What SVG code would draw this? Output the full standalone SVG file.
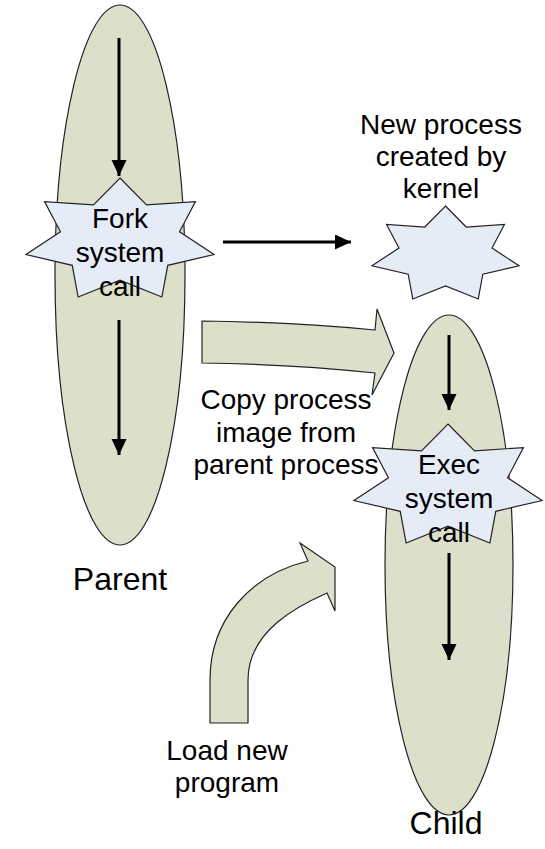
<svg xmlns="http://www.w3.org/2000/svg" xmlns:xlink="http://www.w3.org/1999/xlink" width="545" height="849" viewBox="0 0 545 849">
<style>
.proc{fill:#DCE0CA;stroke:#222;stroke-width:1.2}
.star{fill:#E6ECF7;stroke:#222;stroke-width:1.2}
.blk{fill:#DCE0CA;stroke:#222;stroke-width:1.2}
.con{stroke:#000;stroke-width:3;fill:none}
text{font-family:"Liberation Sans",Arial,sans-serif;fill:#000;text-anchor:middle}
.s{font-size:28px}
.b{font-size:32px}
</style>
<defs>
<polygon id="starshape" vector-effect="non-scaling-stroke" points="0,-1 0.2747,-0.5703 0.7818,-0.6235 0.6171,-0.1408 0.9749,0.2225 0.4949,0.3947 0.4339,0.901 0,0.633 -0.4339,0.901 -0.4949,0.3947 -0.9749,0.2225 -0.6171,-0.1408 -0.7818,-0.6235 -0.2747,-0.5703"/>
<marker id="ah" markerUnits="userSpaceOnUse" markerWidth="17" markerHeight="16" refX="16" refY="7.5" orient="auto">
<path d="M0,0 L16,7.5 L0,15 Z" fill="#000"/>
</marker>
</defs>
<g id="parent">
<ellipse class="proc" cx="120" cy="275" rx="65" ry="270"/>
<text class="b" x="120" y="590">Parent</text>
</g>
<g id="child">
<ellipse class="proc" cx="449" cy="565" rx="64" ry="250"/>
<text class="b" x="446" y="834">Child</text>
</g>
<g id="newproc">
<use xlink:href="#starshape" class="star" transform="translate(445.5,254.9) scale(75.4,48.9)"/>
<text class="s" x="441" y="134">New process</text>
<text class="s" x="441" y="166">created by</text>
<text class="s" x="441" y="198">kernel</text>
</g>
<g id="copyarrow">
<path class="blk" d="M202,321 Q290,322 375,330 L377,309 L394,353 L372,395 L375,373 Q290,364 202,363 Z"/>
<text class="s" x="286" y="409">Copy process</text>
<text class="s" x="286" y="442">image from</text>
<text class="s" x="286" y="474">parent process</text>
</g>
<g id="loadarrow">
<path class="blk" d="M210,723 L210,680 C210,620 250,575 308,561 L300,543 L335,567 L335,611 L327,593 C300,605 248,630 248,680 L248,723 Z"/>
<text class="s" x="227" y="760">Load new</text>
<text class="s" x="227" y="792">program</text>
</g>
<g id="connectors">
<line class="con" x1="119" y1="38" x2="119" y2="176" marker-end="url(#ah)"/>
<line class="con" x1="119" y1="320" x2="119" y2="455" marker-end="url(#ah)"/>
<line class="con" x1="223" y1="242" x2="351" y2="242" marker-end="url(#ah)"/>
<line class="con" x1="449" y1="335" x2="449" y2="410" marker-end="url(#ah)"/>
<line class="con" x1="449" y1="553" x2="449" y2="660" marker-end="url(#ah)"/>
</g>
<g id="fork">
<use xlink:href="#starshape" class="star" transform="translate(120,240.6) scale(96.5,62.6)"/>
<text class="s" x="120" y="228">Fork</text>
<text class="s" x="120" y="262">system</text>
<text class="s" x="120" y="296">call</text>
</g>
<g id="exec">
<use xlink:href="#starshape" class="star" transform="translate(448,486.6) scale(96.5,62.6)"/>
<text class="s" x="449" y="474">Exec</text>
<text class="s" x="449" y="508">system</text>
<text class="s" x="449" y="542">call</text>
</g>
</svg>
